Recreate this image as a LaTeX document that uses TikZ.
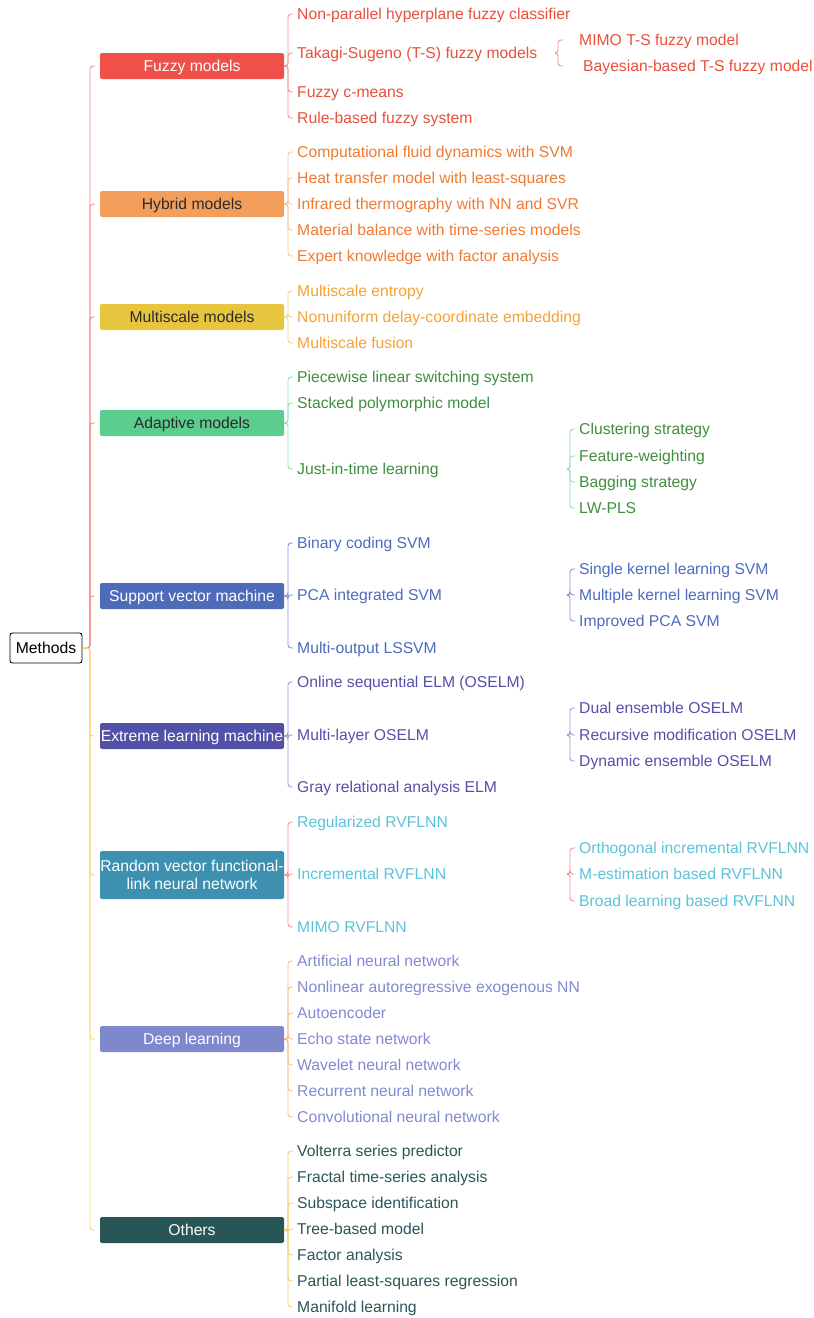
\documentclass[tikz,border=0pt]{standalone}
\usepackage{fontspec}
\setmainfont{Liberation Sans}
\usetikzlibrary{calc}
\definecolor{fuzzyF}{HTML}{EF5049}\definecolor{fuzzyT}{HTML}{E94F3A}\definecolor{fuzzyL}{HTML}{F2918A}
\definecolor{hybF}{HTML}{F39F5B}\definecolor{hybT}{HTML}{F07A30}\definecolor{hybL}{HTML}{F8C090}
\definecolor{mulF}{HTML}{E8C53E}\definecolor{mulT}{HTML}{F4A236}\definecolor{mulL}{HTML}{F3D28E}
\definecolor{adaF}{HTML}{5ACD8F}\definecolor{adaT}{HTML}{3F8E3F}\definecolor{adaL}{HTML}{8FDDB2}
\definecolor{svmF}{HTML}{4D6BB8}\definecolor{svmT}{HTML}{4D6BBF}\definecolor{svmL}{HTML}{8294D2}
\definecolor{elmF}{HTML}{5350A8}\definecolor{elmT}{HTML}{5450AA}\definecolor{elmL}{HTML}{9C98D2}
\definecolor{rvfF}{HTML}{3E90B0}\definecolor{rvfT}{HTML}{5CC2D9}\definecolor{rvfL}{HTML}{F29090}
\definecolor{dlF}{HTML}{7F88CC}\definecolor{dlT}{HTML}{8289D0}\definecolor{dlL}{HTML}{F7BC8C}
\definecolor{othF}{HTML}{285556}\definecolor{othT}{HTML}{2A5657}\definecolor{othL}{HTML}{F2CF70}
\definecolor{methTop}{HTML}{F28A8A}\definecolor{methBot}{HTML}{F6D46E}
\definecolor{darktxt}{HTML}{2B2B2B}
\newcommand\grp[4]{\foreach \c in {#4}{\draw[br,#1] (#2) -- (#2 -| #3) |- ($(\c.west -| #3)+(5,0)$);}}
\begin{document}
\begin{tikzpicture}[x=1pt,y=-1pt,
  txt/.style={font=\fontsize{15.7}{18}\selectfont},
  box/.style={txt,rectangle,rounded corners=2pt,minimum width=184pt,minimum height=26pt,inner sep=0pt,text height=11.2pt,text depth=0pt},
  leaf/.style={txt,anchor=west,inner sep=0pt,text height=11.2pt,text depth=0pt},
  br/.style={line width=0.9pt,rounded corners=3pt},
  methods/.style={txt,draw=black,line width=0.9pt,rounded corners=2.5pt,fill=white,minimum width=72pt,minimum height=30pt,inner sep=0pt,text height=11.2pt,text depth=0pt}]
\useasboundingbox (0,0) rectangle (814,1318);
\coordinate (b90) at (90,0);
\coordinate (b288) at (288,0);
\coordinate (b558) at (558,0);
\coordinate (b570) at (570,0);

\node[methods] (M) at (46,648) {Methods};

% main boxes
\node[box,fill=fuzzyF,text=white] (F) at (192,66) {Fuzzy models};
\node[box,fill=hybF,text=darktxt] (H) at (192,204) {Hybrid models};
\node[box,fill=mulF,text=darktxt] (MS) at (192,317) {Multiscale models};
\node[box,fill=adaF,text=darktxt] (A) at (192,423) {Adaptive models};
\node[box,fill=svmF,text=white] (S) at (192,596) {Support vector machine};
\node[box,fill=elmF,text=white] (E) at (192,736) {Extreme learning machine};
\node[box,fill=rvfF,text=white,minimum height=48pt,align=center,text height=,text depth=] (R) at (192,875) {Random vector functional-\\link neural network};
\node[box,fill=dlF,text=white] (D) at (192,1039) {Deep learning};
\node[box,fill=othF,text=white] (O) at (192,1230) {Others};

% fuzzy
\begin{scope}[every node/.style={leaf,text=fuzzyT}]
\node (F1) at (297,14) {Non-parallel hyperplane fuzzy classifier};
\node (F2) at (297,53) {Takagi-Sugeno (T-S) fuzzy models};
\node (F3) at (297,92) {Fuzzy c-means};
\node (F4) at (297,118) {Rule-based fuzzy system};
\node (F21) at (579,40) {MIMO T-S fuzzy model};
\node (F22) at (583,66) {Bayesian-based T-S fuzzy model};
\end{scope}
% hybrid
\begin{scope}[every node/.style={leaf,text=hybT}]
\node (H1) at (297,152) {Computational fluid dynamics with SVM};
\node (H2) at (297,178) {Heat transfer model with least-squares};
\node (H3) at (297,204) {Infrared thermography with NN and SVR};
\node (H4) at (297,230) {Material balance with time-series models};
\node (H5) at (297,256) {Expert knowledge with factor analysis};
\end{scope}
% multiscale
\begin{scope}[every node/.style={leaf,text=mulT}]
\node (MS1) at (297,291) {Multiscale entropy};
\node (MS2) at (297,317) {Nonuniform delay-coordinate embedding};
\node (MS3) at (297,343) {Multiscale fusion};
\end{scope}
% adaptive
\begin{scope}[every node/.style={leaf,text=adaT}]
\node (A1) at (297,377) {Piecewise linear switching system};
\node (A2) at (297,403) {Stacked polymorphic model};
\node (A3) at (297,469) {Just-in-time learning};
\node (A31) at (579,429) {Clustering strategy};
\node (A32) at (579,456) {Feature-weighting};
\node (A33) at (579,482) {Bagging strategy};
\node (A34) at (579,508) {LW-PLS};
\end{scope}
% svm
\begin{scope}[every node/.style={leaf,text=svmT}]
\node (S1) at (297,543) {Binary coding SVM};
\node (S2) at (297,595) {PCA integrated SVM};
\node (S3) at (297,648) {Multi-output LSSVM};
\node (S21) at (579,569) {Single kernel learning SVM};
\node (S22) at (579,595) {Multiple kernel learning SVM};
\node (S23) at (579,621) {Improved PCA SVM};
\end{scope}
% elm
\begin{scope}[every node/.style={leaf,text=elmT}]
\node (E1) at (297,682) {Online sequential ELM (OSELM)};
\node (E2) at (297,735) {Multi-layer OSELM};
\node (E3) at (297,787) {Gray relational analysis ELM};
\node (E21) at (579,708) {Dual ensemble OSELM};
\node (E22) at (579,735) {Recursive modification OSELM};
\node (E23) at (579,761) {Dynamic ensemble OSELM};
\end{scope}
% rvfl
\begin{scope}[every node/.style={leaf,text=rvfT}]
\node (R1) at (297,822) {Regularized RVFLNN};
\node (R2) at (297,874) {Incremental RVFLNN};
\node (R3) at (297,927) {MIMO RVFLNN};
\node (R21) at (579,848) {Orthogonal incremental RVFLNN};
\node (R22) at (579,874) {M-estimation based RVFLNN};
\node (R23) at (579,901) {Broad learning based RVFLNN};
\end{scope}
% deep
\begin{scope}[every node/.style={leaf,text=dlT}]
\node (D1) at (297,961) {Artificial neural network};
\node (D2) at (297,987) {Nonlinear autoregressive exogenous NN};
\node (D3) at (297,1013) {Autoencoder};
\node (D4) at (297,1039) {Echo state network};
\node (D5) at (297,1065) {Wavelet neural network};
\node (D6) at (297,1091) {Recurrent neural network};
\node (D7) at (297,1117) {Convolutional neural network};
\end{scope}
% others
\begin{scope}[every node/.style={leaf,text=othT}]
\node (O1) at (297,1151) {Volterra series predictor};
\node (O2) at (297,1177) {Fractal time-series analysis};
\node (O3) at (297,1203) {Subspace identification};
\node (O4) at (297,1229) {Tree-based model};
\node (O5) at (297,1255) {Factor analysis};
\node (O6) at (297,1281) {Partial least-squares regression};
\node (O7) at (297,1307) {Manifold learning};
\end{scope}

% tick coordinates for sub-brackets
\coordinate (F2t) at (555,53);
\coordinate (A3t) at (567,469);
\coordinate (S2t) at (567,595);
\coordinate (E2t) at (567,735);
\coordinate (R2t) at (567,874);

% connectors
\grp{methTop}{M.east}{b90}{F,H,MS,A,S}
\grp{methBot}{M.east}{b90}{E,R,D,O}
\grp{fuzzyL}{F.east}{b288}{F1,F2,F3,F4}
\grp{fuzzyL}{F2t}{b558}{F21,F22}
\grp{hybL}{H.east}{b288}{H1,H2,H3,H4,H5}
\grp{mulL}{MS.east}{b288}{MS1,MS2,MS3}
\grp{adaL}{A.east}{b288}{A1,A2,A3}
\grp{adaL}{A3t}{b570}{A31,A32,A33,A34}
\grp{svmL}{S.east}{b288}{S1,S2,S3}
\grp{svmL}{S2t}{b570}{S21,S22,S23}
\grp{elmL}{E.east}{b288}{E1,E2,E3}
\grp{elmL}{E2t}{b570}{E21,E22,E23}
\grp{rvfL}{R.east}{b288}{R1,R2,R3}
\grp{rvfL}{R2t}{b570}{R21,R22,R23}
\grp{dlL}{D.east}{b288}{D1,D2,D3,D4,D5,D6,D7}
\grp{othL}{O.east}{b288}{O1,O2,O3,O4,O5,O6,O7}
\end{tikzpicture}
\end{document}
